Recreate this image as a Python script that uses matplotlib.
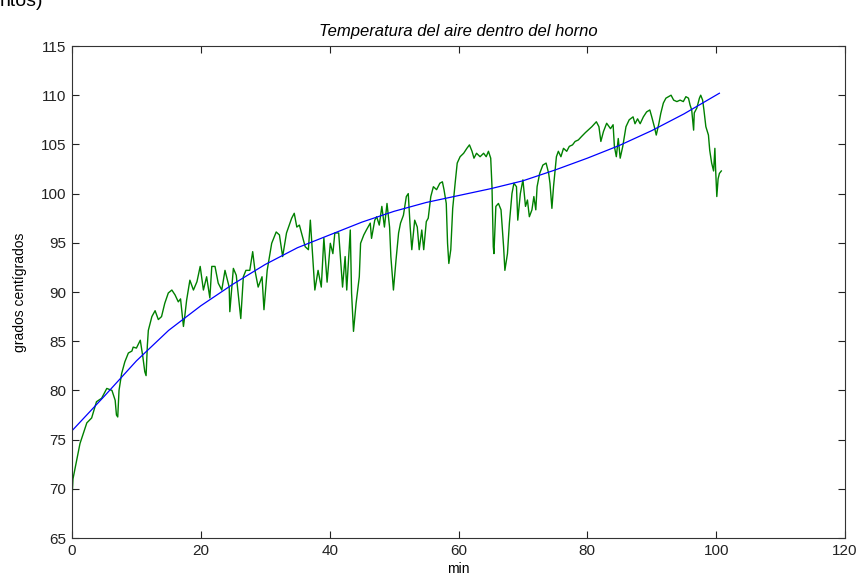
import matplotlib
matplotlib.use("Agg")
import matplotlib.pyplot as plt

# Measured oven air temperature (min, °C)
tiempo = [
    0.0, 0.15, 0.6, 1.24, 2.3, 3.05, 3.8, 4.6, 5.4, 6.2, 6.7, 6.9, 7.1, 7.3, 7.7,
    8.2, 8.75, 9.3, 9.5, 10.0, 10.6, 11.0, 11.3, 11.5, 11.7, 11.85, 12.4, 12.9,
    13.4, 13.9, 14.4, 14.95, 15.5, 16.0, 16.5, 16.85, 17.3, 17.5, 17.8, 18.3,
    18.85, 19.4, 19.9, 20.4, 20.9, 21.4, 21.7, 22.2, 22.7, 23.25, 23.75, 24.4,
    24.5, 25.05, 25.5, 26.2, 26.6, 27.0, 27.6, 28.05, 28.4, 28.9, 29.5, 29.8,
    30.3, 31.0, 31.7, 32.2, 32.7, 33.3, 34.1, 34.5, 34.9, 35.3, 36.2, 36.7,
    37.0, 37.7, 38.2, 38.7, 39.1, 39.6, 40.1, 40.5, 40.8, 41.4, 41.7, 42.0,
    42.4, 42.65, 43.2, 43.4, 43.7, 44.1, 44.6, 44.8, 45.3, 45.7, 46.3, 46.5,
    47.0, 47.3, 47.7, 48.1, 48.5, 48.9, 49.3, 49.5, 49.9, 50.3, 50.7, 51.0,
    51.45, 51.9, 52.2, 52.5, 52.75, 53.2, 53.6, 53.9, 54.3, 54.6, 55.0, 55.3,
    55.7, 56.1, 56.6, 57.1, 57.5, 57.75, 58.1, 58.3, 58.5, 58.8, 59.1, 59.5,
    59.8, 60.25, 60.8, 61.3, 61.7, 62.1, 62.4, 62.8, 63.35, 63.9, 64.3, 64.65,
    65.0, 65.2, 65.4, 65.5, 65.8, 66.2, 66.6, 67.0, 67.2, 67.6, 67.9, 68.3,
    68.6, 69.0, 69.2, 69.6, 70.0, 70.4, 70.7, 71.0, 71.4, 71.7, 72.0, 72.2,
    72.6, 73.1, 73.6, 74.0, 74.2, 74.5, 74.75, 75.2, 75.5, 75.9, 76.3, 76.8,
    77.2, 77.7, 78.1, 78.6, 79.1, 79.7, 80.2, 80.7, 81.4, 81.8, 82.1, 82.5,
    83.0, 83.6, 84.0, 84.2, 84.5, 84.8, 85.1, 85.5, 86.0, 86.5, 87.1, 87.4,
    87.8, 88.2, 88.7, 89.2, 89.7, 90.0, 90.4, 90.7, 91.1, 91.4, 91.8, 92.2,
    92.6, 93.0, 93.4, 93.9, 94.4, 94.9, 95.3, 95.7, 95.95, 96.2, 96.5, 96.6,
    97.0, 97.4, 97.6, 97.9, 98.1, 98.4, 98.8, 99.0, 99.3, 99.6, 99.8, 99.9,
    100.1, 100.3, 100.5, 100.8,
]
temperatura = [
    69.0, 71.0, 72.5, 74.6, 76.7, 77.2, 78.85, 79.2, 80.2, 80.0, 79.0, 77.5, 77.3,
    80.0, 81.7, 82.9, 83.8, 84.0, 84.4, 84.3, 85.1, 83.4, 81.9, 81.5, 84.6, 86.1,
    87.5, 88.1, 87.2, 87.5, 88.85, 89.9, 90.2, 89.7, 89.0, 89.3, 86.5, 87.5,
    89.2, 91.2, 90.2, 91.05, 92.6, 90.2, 91.55, 89.4, 92.6, 92.6, 90.9, 90.2,
    92.2, 90.5, 88.0, 92.4, 91.7, 87.3, 91.55, 92.2, 92.2, 94.1, 92.2, 90.5,
    91.55, 88.2, 92.2, 94.95, 96.1, 95.8, 93.6, 96.0, 97.5, 98.0, 96.6, 96.8,
    94.6, 94.3, 97.3, 90.2, 92.2, 90.5, 95.5, 91.0, 94.95, 93.9, 96.0, 96.0,
    93.25, 90.5, 93.6, 90.2, 96.3, 89.9, 86.0, 88.85, 91.55, 94.95, 95.8, 96.3,
    97.0, 95.45, 97.3, 97.65, 96.8, 98.7, 96.6, 99.0, 96.6, 93.6, 90.2, 93.25,
    96.0, 97.0, 97.8, 99.7, 100.0, 96.6, 94.3, 97.3, 96.6, 94.3, 96.3, 94.3,
    97.15, 97.5, 99.7, 100.7, 100.4, 101.05, 101.2, 100.4, 99.0, 94.95, 92.9,
    94.3, 98.5, 101.2, 103.1, 103.75, 104.1, 104.6, 104.95, 104.3, 103.6,
    104.1, 103.75, 104.1, 103.75, 104.3, 103.6, 100.7, 94.6, 93.9, 98.7, 99.0,
    98.35, 94.6, 92.2, 93.9, 97.0, 100.0, 101.05, 100.7, 97.3, 100.0, 101.4,
    98.7, 99.35, 97.65, 98.35, 99.7, 98.35, 100.7, 102.05, 102.9, 103.1, 102.05,
    101.05, 98.5, 100.7, 103.75, 104.3, 103.75, 104.6, 104.3, 104.8, 104.95,
    105.3, 105.45, 105.8, 106.2, 106.5, 106.8, 107.3, 106.8, 105.3, 106.3,
    107.15, 106.6, 107.0, 104.8, 103.75, 105.6, 103.6, 104.8, 106.8, 107.5,
    107.8, 107.1, 107.6, 107.1, 107.8, 108.3, 108.5, 107.8, 106.8, 105.95,
    107.1, 108.15, 109.2, 109.7, 109.85, 110.0, 109.5, 109.35, 109.5, 109.35,
    109.85, 109.7, 109.0, 108.5, 106.45, 108.2, 108.7, 109.7, 110.0, 109.5,
    108.5, 106.8, 105.95, 104.4, 103.1, 102.3, 104.6, 102.7, 99.7, 101.5,
    102.05, 102.3,
]

# Smooth fitted trend (min, °C)
tiempo_ajuste = [0, 5, 10, 15, 20, 25, 30, 35, 40, 45, 50, 55, 60, 65, 70,
                 75, 80, 85, 90, 95, 100.5]
temp_ajuste = [75.9, 79.4, 83.0, 86.1, 88.6, 90.8, 92.8, 94.5, 95.8, 97.1,
               98.2, 99.1, 99.8, 100.5, 101.3, 102.4, 103.6, 104.9, 106.4,
               108.1, 110.2]

x_ticks = [0, 20, 40, 60, 80, 100, 120]
y_ticks = [65, 70, 75, 80, 85, 90, 95, 100, 105, 110, 115]

plt.rcParams['font.family'] = ['Liberation Sans', 'DejaVu Sans']

fig = plt.figure(figsize=(8.59, 5.79), dpi=100)
ax = fig.add_axes([72 / 859, 1 - 538 / 579, (845 - 72) / 859, (538 - 46) / 579])

ax.plot(tiempo, temperatura, color='#008000', linewidth=1.0)
ax.plot(tiempo_ajuste, temp_ajuste, color='#0000ff', linewidth=0.9)

ax.set_xlim(0, 120)
ax.set_ylim(65, 115)
ax.set_xticks(x_ticks)
ax.set_yticks(y_ticks)
ax.tick_params(direction='in', top=True, right=True, length=5, width=0.8,
               labelsize=11, pad=4, colors='#222222')
for s in ax.spines.values():
    s.set_linewidth(0.8)
    s.set_color('#333333')

ax.set_title('Temperatura del aire dentro del horno', fontstyle='italic',
             fontsize=12, pad=7)
ax.set_xlabel('min', fontsize=10, labelpad=3)
ax.set_ylabel('grados centígrados', fontsize=10, labelpad=10)

fig.text(0.0, 1 - 6 / 579, 'ntos)', fontsize=14, va='baseline', ha='left')

fig.savefig('out.png', dpi=100)
